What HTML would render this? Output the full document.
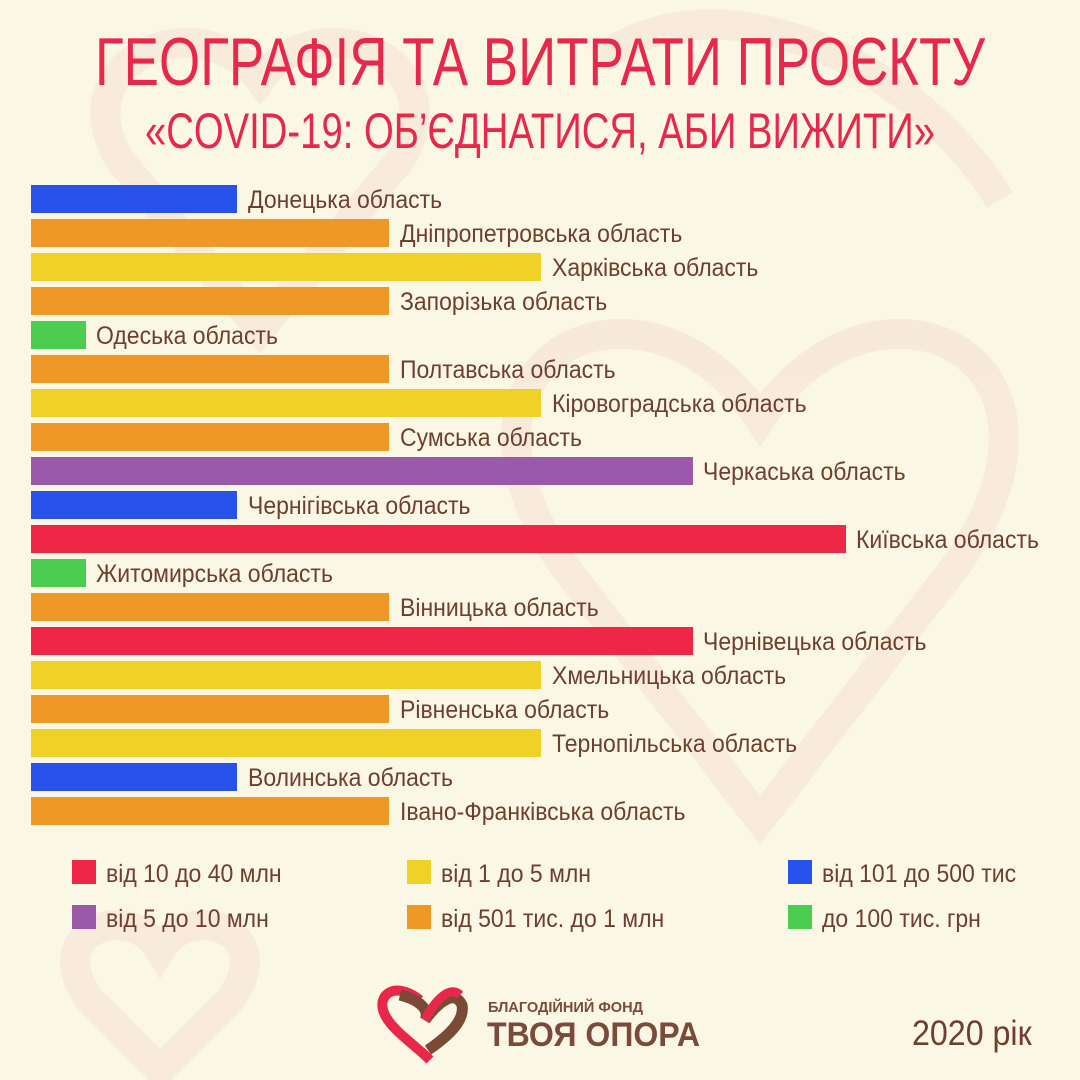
<!DOCTYPE html>
<html><head><meta charset="utf-8"><style>
html,body{margin:0;padding:0;background:#fbf7e5;}
svg{display:block}
</style></head><body>
<svg width="1080" height="1080" viewBox="0 0 1080 1080" xmlns="http://www.w3.org/2000/svg">
<rect width="1080" height="1080" fill="#fbf7e5"/>
<g fill="none" stroke="#f6d9cc" stroke-width="30" opacity="0.4">
<path d="M120 160 C60 60 200 0 260 80 C320 0 460 60 400 160 L260 330 Z"/>
<path d="M560 560 C420 350 650 250 760 420 C870 250 1100 350 960 560 L760 820 Z"/>
<path d="M600 60 C700 -20 900 40 1000 200"/>
<path d="M90 1000 C40 930 130 900 160 950 C190 900 280 930 230 1000 L160 1070 Z"/>
</g>
<g font-family="Liberation Sans, sans-serif" fill="#e8284a" text-anchor="start">
<text x="95" y="85" font-size="68" textLength="890" lengthAdjust="spacingAndGlyphs">ГЕОГРАФІЯ ТА ВИТРАТИ ПРОЄКТУ</text>
<text x="145" y="148" font-size="50" textLength="790" lengthAdjust="spacingAndGlyphs">«COVID-19: ОБ’ЄДНАТИСЯ, АБИ ВИЖИТИ»</text>
</g>
<g id="bars">
<rect x="31" y="185" width="206" height="28" fill="#2753ec"/>
<rect x="31" y="219" width="358" height="28" fill="#ee9828"/>
<rect x="31" y="253" width="510" height="28" fill="#efd128"/>
<rect x="31" y="287" width="358" height="28" fill="#ee9828"/>
<rect x="31" y="321" width="55" height="28" fill="#4bcd50"/>
<rect x="31" y="355" width="358" height="28" fill="#ee9828"/>
<rect x="31" y="389" width="510" height="28" fill="#efd128"/>
<rect x="31" y="423" width="358" height="28" fill="#ee9828"/>
<rect x="31" y="457" width="662" height="28" fill="#9b59aa"/>
<rect x="31" y="491" width="206" height="28" fill="#2753ec"/>
<rect x="31" y="525" width="815" height="28" fill="#ee2747"/>
<rect x="31" y="559" width="55" height="28" fill="#4bcd50"/>
<rect x="31" y="593" width="358" height="28" fill="#ee9828"/>
<rect x="31" y="627" width="662" height="28" fill="#ee2747"/>
<rect x="31" y="661" width="510" height="28" fill="#efd128"/>
<rect x="31" y="695" width="358" height="28" fill="#ee9828"/>
<rect x="31" y="729" width="510" height="28" fill="#efd128"/>
<rect x="31" y="763" width="206" height="28" fill="#2753ec"/>
<rect x="31" y="797" width="358" height="28" fill="#ee9828"/>
</g>
<g font-family="Liberation Sans, sans-serif" font-size="25" fill="#6e3e2e">
<g transform="translate(248,0) scale(0.92,1)"><text x="0" y="208">Донецька область</text><text x="0" y="786">Волинська область</text><text x="0" y="514">Чернігівська область</text></g>
<g transform="translate(400,0) scale(0.92,1)"><text y="242">Дніпропетровська область</text><text y="310">Запорізька область</text><text y="378">Полтавська область</text><text y="446">Сумська область</text><text y="616">Вінницька область</text><text y="718">Рівненська область</text><text y="820">Івано-Франківська область</text></g>
<g transform="translate(552,0) scale(0.92,1)"><text y="276">Харківська область</text><text y="412">Кіровоградська область</text><text y="684">Хмельницька область</text><text y="752">Тернопільська область</text></g>
<g transform="translate(96,0) scale(0.92,1)"><text y="344">Одеська область</text><text y="582">Житомирська область</text></g>
<g transform="translate(703,0) scale(0.92,1)"><text y="480">Черкаська область</text><text y="650">Чернівецька область</text></g>
<g transform="translate(856,0) scale(0.92,1)"><text y="548">Київська область</text></g>
</g>
<g>
<rect x="72" y="860" width="24" height="24" fill="#ee2747"/>
<rect x="72" y="905" width="24" height="24" fill="#9b59aa"/>
<rect x="407" y="860" width="24" height="24" fill="#efd128"/>
<rect x="407" y="905" width="24" height="24" fill="#ee9828"/>
<rect x="788" y="860" width="24" height="24" fill="#2753ec"/>
<rect x="788" y="905" width="24" height="24" fill="#4bcd50"/>
</g>
<g font-family="Liberation Sans, sans-serif" font-size="25" fill="#6e3e2e">
<g transform="translate(106,0) scale(0.92,1)"><text y="882">від 10 до 40 млн</text><text y="927">від 5 до 10 млн</text></g>
<g transform="translate(441,0) scale(0.92,1)"><text y="882">від 1 до 5 млн</text><text y="927">від 501 тис. до 1 млн</text></g>
<g transform="translate(822,0) scale(0.92,1)"><text y="882">від 101 до 500 тис</text><text y="927">до 100 тис. грн</text></g>
<g transform="translate(912,0) scale(0.92,1)"><text y="1045" font-size="35">2020 рік</text></g>
</g>
<g>
<path d="M420 1000 C395 980 375 995 385 1015 C392 1030 415 1045 430 1060" fill="none" stroke="#e8284a" stroke-width="10"/>
<path d="M400 995 C420 1000 430 1010 425 1020 C440 1000 455 990 462 1005 C465 1020 450 1035 428 1050" fill="none" stroke="#7a4a35" stroke-width="11"/>
<path d="M425 1020 C435 1000 450 985 460 995" fill="none" stroke="#e8284a" stroke-width="9"/>
</g>
<g font-family="Liberation Sans, sans-serif" font-weight="bold" fill="#7a4a3a">
<text x="488" y="1012" font-size="15" textLength="155" lengthAdjust="spacingAndGlyphs">БЛАГОДІЙНИЙ ФОНД</text>
<text x="487" y="1046" font-size="34" textLength="213" lengthAdjust="spacingAndGlyphs">ТВОЯ ОПОРА</text>
</g>
</svg>
</body></html>
